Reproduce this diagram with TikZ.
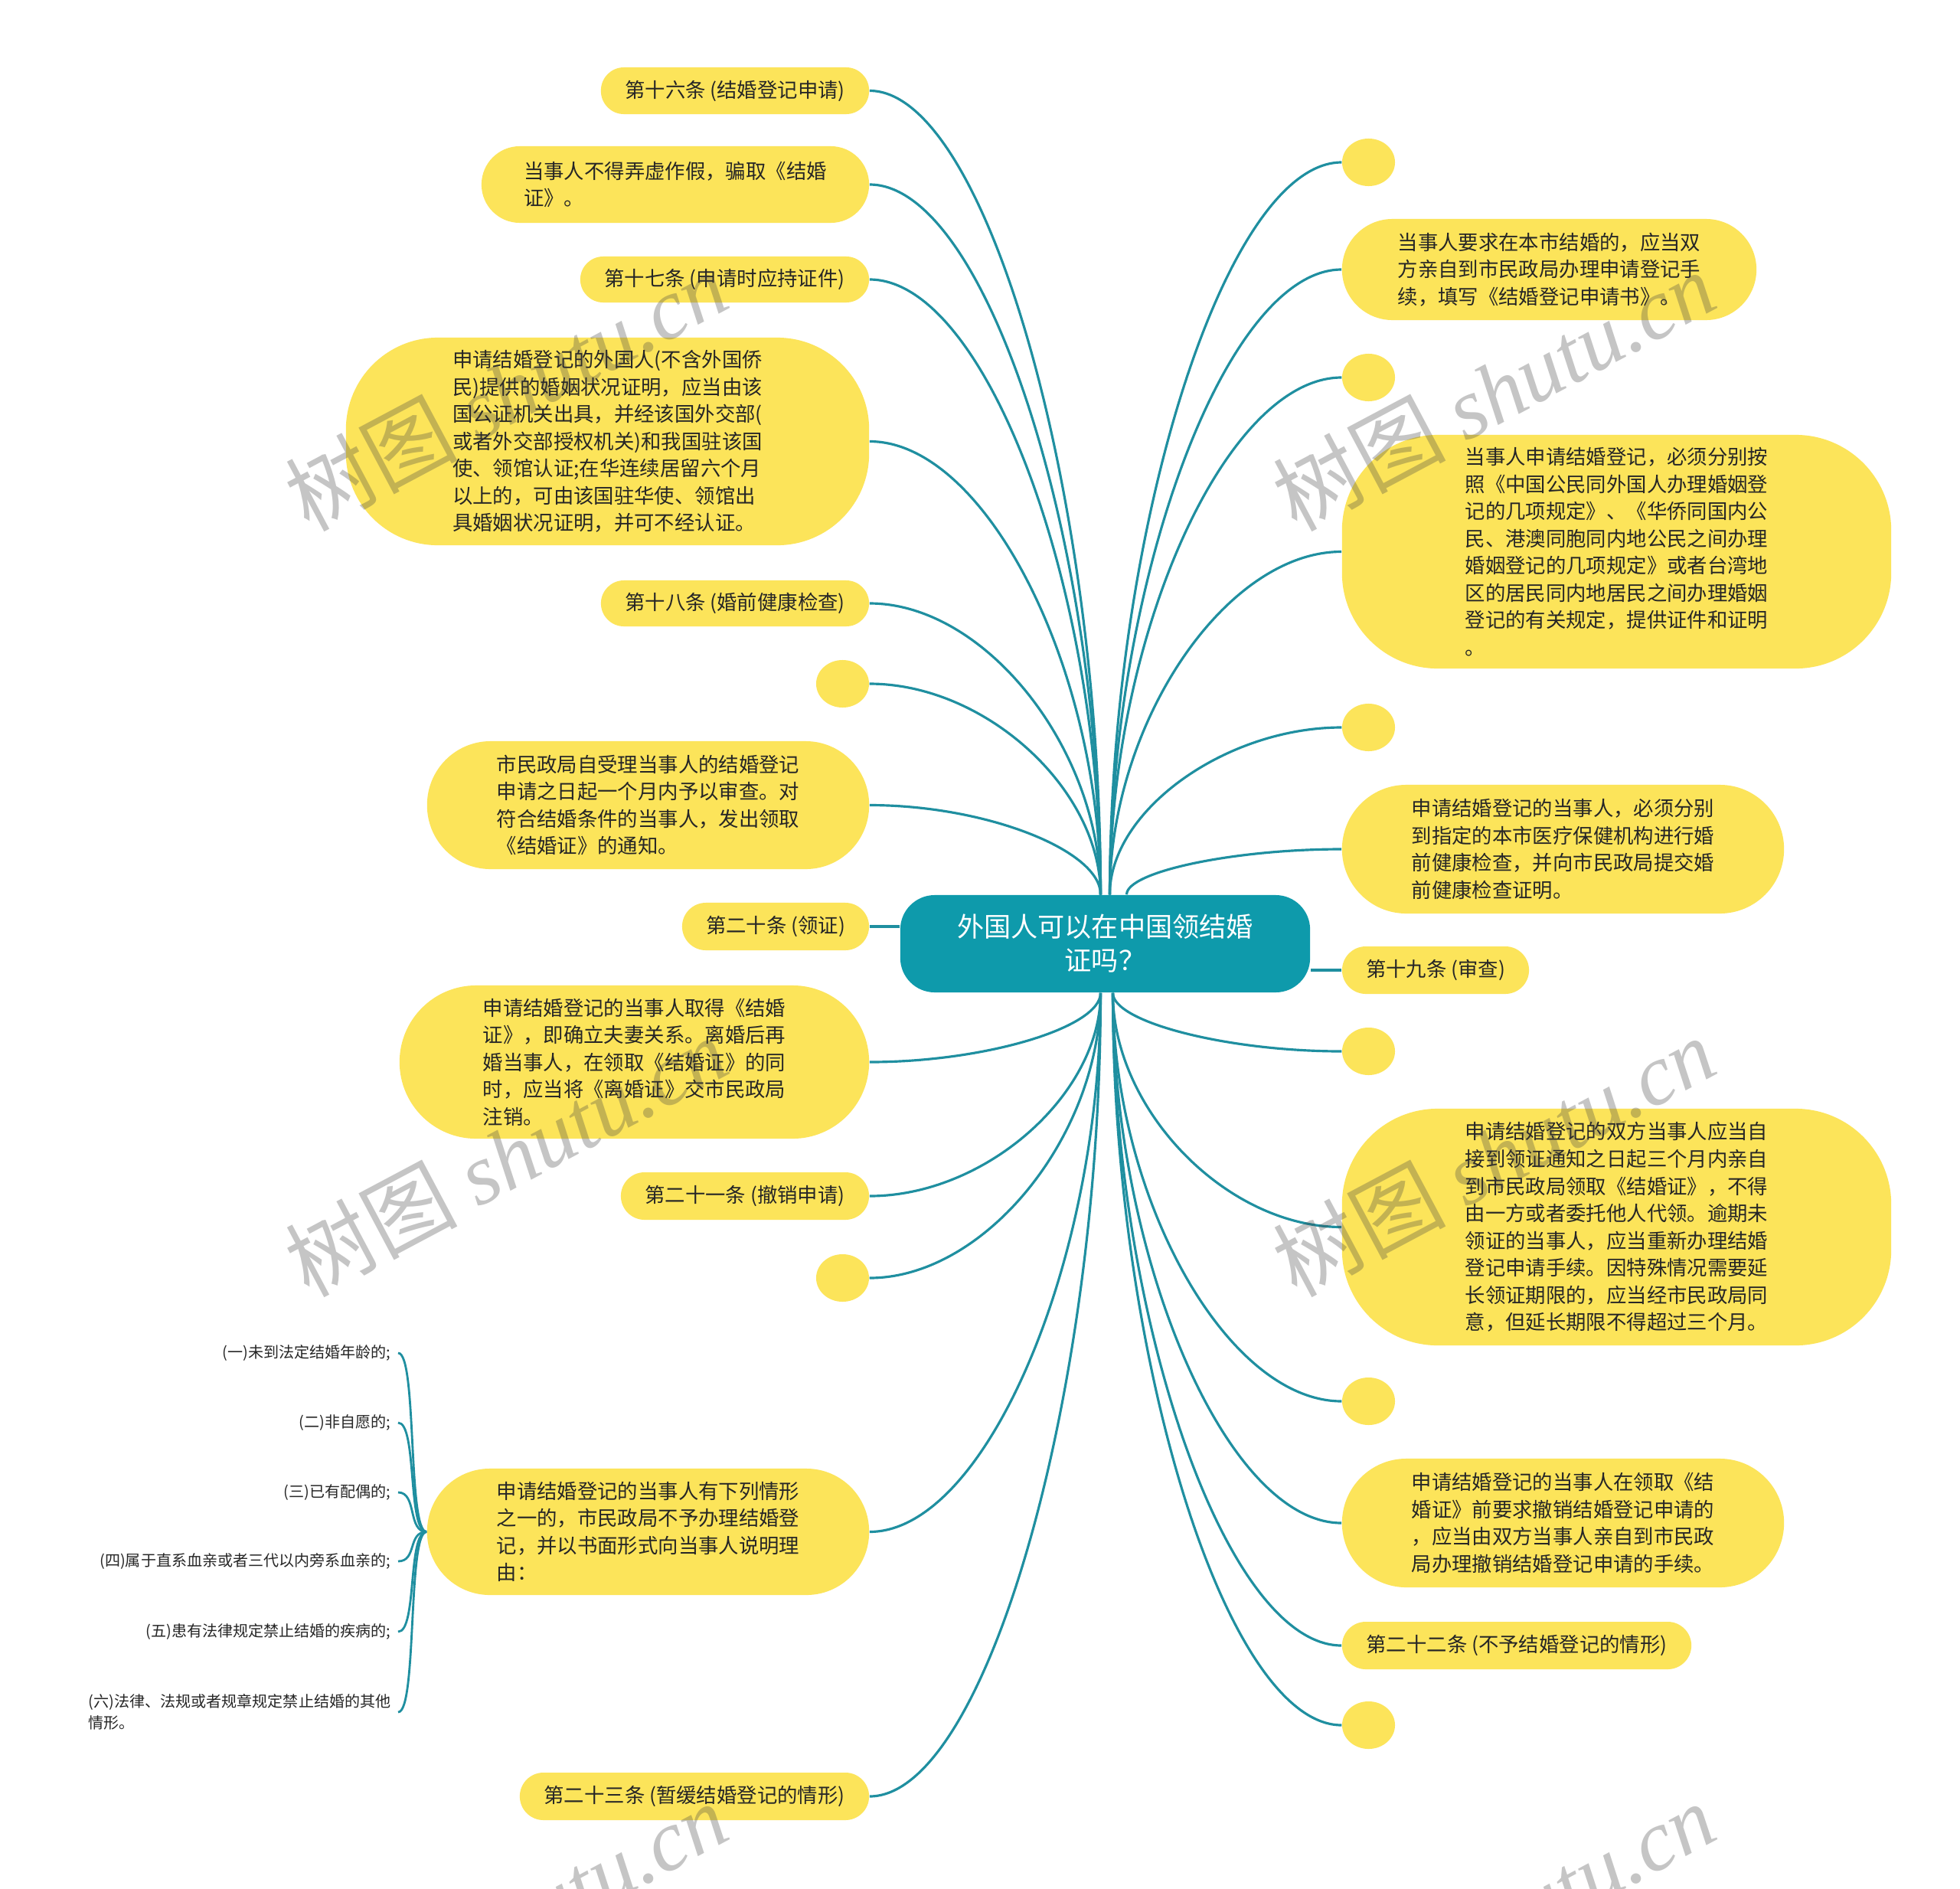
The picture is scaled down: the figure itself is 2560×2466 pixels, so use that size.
\documentclass[tikz,border=0pt]{standalone}
\usepackage{fontspec}
\newfontfamily\cjk{Noto Sans CJK SC}
\newfontfamily\wmlatin{Liberation Serif}
\usetikzlibrary{shapes.geometric,backgrounds,calc}
\definecolor{nodeyellow}{HTML}{FCE45A}
\definecolor{linkteal}{HTML}{1F8FA0}
\definecolor{rootteal}{HTML}{0E9AAB}
\definecolor{textdark}{HTML}{262626}
\newcommand\myleaffont{\cjk\fontsize{7.5pt}{10.1pt}\selectfont}
\newcommand\myrootfont{\cjk\fontsize{10pt}{12.5pt}\selectfont}
\newcommand\mysubfont{\cjk\fontsize{5.7pt}{7.9pt}\selectfont}
\newcommand\mywmfont{\fontsize{32pt}{36pt}\selectfont}
\tikzset{
  leaf/.style={fill=nodeyellow, text=textdark, font=\myleaffont, align=left, inner sep=0pt},
  blob/.style={fill=nodeyellow, ellipse, minimum width=0.69cm, minimum height=0.62cm, inner sep=0pt},
  rootbox/.style={fill=rootteal, text=white, font=\myrootfont, align=center, inner sep=0pt,
    minimum width=5.35cm, minimum height=1.27cm, rounded corners=0.45cm},
  conn/.style={draw=linkteal, line width=0.9pt},
  subconn/.style={draw=linkteal, line width=0.8pt},
  subitem/.style={text=textdark, font=\mysubfont, align=left, inner sep=0pt, inner xsep=0.09cm, anchor=east},
  wmark/.style={text=gray!50!black, opacity=0.3, font=\mywmfont, rotate=28, inner sep=0pt}
}
\begin{document}
\begin{tikzpicture}[x=0.01cm,y=-0.01cm]
\useasboundingbox (0,0) rectangle (2560,2466);

% root
\node[rootbox] (c) at (1443.5,1232.5) {外国人可以在中国领结婚\\证吗？};

% left children
\node[leaf, minimum width=3.50cm, minimum height=0.61cm, rounded corners=0.30cm] (L1) at (960,118.5) {第十六条 (结婚登记申请)};
\node[leaf, minimum width=5.06cm, minimum height=1.00cm, rounded corners=0.50cm] (L2) at (882,241) {当事人不得弄虚作假，骗取《结婚\\证》。};
\node[leaf, minimum width=3.77cm, minimum height=0.60cm, rounded corners=0.30cm] (L3) at (946.5,365) {第十七条 (申请时应持证件)};
\node[leaf, minimum width=6.83cm, minimum height=2.71cm, rounded corners=1.20cm] (L4) at (793.5,576.5) {申请结婚登记的外国人(不含外国侨\\民)提供的婚姻状况证明，应当由该\\国公证机关出具，并经该国外交部(\\或者外交部授权机关)和我国驻该国\\使、领馆认证;在华连续居留六个月\\以上的，可由该国驻华使、领馆出\\具婚姻状况证明，并可不经认证。};
\node[leaf, minimum width=3.50cm, minimum height=0.60cm, rounded corners=0.30cm] (L5) at (960,788) {第十八条 (婚前健康检查)};
\node[blob] (L6) at (1100.5,893) {};
\node[leaf, minimum width=5.77cm, minimum height=1.67cm, rounded corners=0.83cm] (L7) at (846.5,1051.5) {市民政局自受理当事人的结婚登记\\申请之日起一个月内予以审查。对\\符合结婚条件的当事人，发出领取\\《结婚证》的通知。};
\node[leaf, minimum width=2.44cm, minimum height=0.62cm, rounded corners=0.31cm] (L8) at (1013,1210) {第二十条 (领证)};
\node[leaf, minimum width=6.13cm, minimum height=2.00cm, rounded corners=1.00cm] (L9) at (828.5,1387) {申请结婚登记的当事人取得《结婚\\证》，即确立夫妻关系。离婚后再\\婚当事人，在领取《结婚证》的同\\时，应当将《离婚证》交市民政局\\注销。};
\node[leaf, minimum width=3.24cm, minimum height=0.62cm, rounded corners=0.31cm] (L10) at (973,1562) {第二十一条 (撤销申请)};
\node[blob] (L11) at (1100.5,1669) {};
\node[leaf, minimum width=5.77cm, minimum height=1.65cm, rounded corners=0.82cm] (L12) at (846.5,2000.5) {申请结婚登记的当事人有下列情形\\之一的，市民政局不予办理结婚登\\记，并以书面形式向当事人说明理\\由：};
\node[leaf, minimum width=4.56cm, minimum height=0.62cm, rounded corners=0.31cm] (L13) at (907,2346) {第二十三条 (暂缓结婚登记的情形)};

% right children
\node[blob] (R1) at (1787.5,212) {};
\node[leaf, minimum width=5.41cm, minimum height=1.32cm, rounded corners=0.66cm] (R2) at (2023.5,352) {当事人要求在本市结婚的，应当双\\方亲自到市民政局办理申请登记手\\续，填写《结婚登记申请书》。};
\node[blob] (R3) at (1787.5,493) {};
\node[leaf, minimum width=7.17cm, minimum height=3.05cm, rounded corners=1.25cm] (R4) at (2111.5,720.5) {当事人申请结婚登记，必须分别按\\照《中国公民同外国人办理婚姻登\\记的几项规定》、《华侨同国内公\\民、港澳同胞同内地公民之间办理\\婚姻登记的几项规定》或者台湾地\\区的居民同内地居民之间办理婚姻\\登记的有关规定，提供证件和证明\\。};
\node[blob] (R5) at (1787.5,950) {};
\node[leaf, minimum width=5.77cm, minimum height=1.68cm, rounded corners=0.84cm] (R6) at (2041.5,1109) {申请结婚登记的当事人，必须分别\\到指定的本市医疗保健机构进行婚\\前健康检查，并向市民政局提交婚\\前健康检查证明。};
\node[leaf, minimum width=2.44cm, minimum height=0.62cm, rounded corners=0.31cm] (R7) at (1875,1267) {第十九条 (审查)};
\node[blob] (R8) at (1787.5,1373) {};
\node[leaf, minimum width=7.17cm, minimum height=3.09cm, rounded corners=1.25cm] (R9) at (2111.5,1602.5) {申请结婚登记的双方当事人应当自\\接到领证通知之日起三个月内亲自\\到市民政局领取《结婚证》，不得\\由一方或者委托他人代领。逾期未\\领证的当事人，应当重新办理结婚\\登记申请手续。因特殊情况需要延\\长领证期限的，应当经市民政局同\\意，但延长期限不得超过三个月。};
\node[blob] (R10) at (1787.5,1830) {};
\node[leaf, minimum width=5.77cm, minimum height=1.68cm, rounded corners=0.84cm] (R11) at (2041.5,1989) {申请结婚登记的当事人在领取《结\\婚证》前要求撤销结婚登记申请的\\，应当由双方当事人亲自到市民政\\局办理撤销结婚登记申请的手续。};
\node[leaf, minimum width=4.56cm, minimum height=0.62cm, rounded corners=0.31cm] (R12) at (1981,2149) {第二十二条 (不予结婚登记的情形)};
\node[blob] (R13) at (1787.5,2253) {};

% sub items of L12
\node[subitem] (S1) at (520,1767) {(一)未到法定结婚年龄的;};
\node[subitem] (S2) at (520,1858) {(二)非自愿的;};
\node[subitem] (S3) at (520,1949) {(三)已有配偶的;};
\node[subitem] (S4) at (520,2039) {(四)属于直系血亲或者三代以内旁系血亲的;};
\node[subitem] (S5) at (520,2131) {(五)患有法律规定禁止结婚的疾病的;};
\node[subitem] (S6) at (520,2236) {(六)法律、法规或者规章规定禁止结婚的其他\\情形。};

\begin{pgfonlayer}{background}
\fill[white] (0,0) rectangle (2560,2466);
% left above
\draw[conn] (L1.east) .. controls +(151,0) and +(0,-525) .. ([xshift=-0.06cm]c.north);
\draw[conn] (L2.east) .. controls +(151,0) and +(0,-464) .. ([xshift=-0.06cm]c.north);
\draw[conn] (L3.east) .. controls +(151,0) and +(0,-402) .. ([xshift=-0.06cm]c.north);
\draw[conn] (L4.east) .. controls +(151,0) and +(0,-296) .. ([xshift=-0.06cm]c.north);
\draw[conn] (L5.east) .. controls +(151,0) and +(0,-190) .. ([xshift=-0.06cm]c.north);
\draw[conn] (L6.east) .. controls +(151,0) and +(0,-138) .. ([xshift=-0.06cm]c.north);
\draw[conn] (L7.east) .. controls +(151,0) and +(0,-58) .. ([xshift=-0.06cm]c.north);
% left middle
\draw[conn] (L8.east) -- (L8.east -| c.west);
% left below
\draw[conn] ([xshift=-0.06cm]c.south) .. controls +(0,45) and +(151,0) .. (L9.east);
\draw[conn] ([xshift=-0.06cm]c.south) .. controls +(0,133) and +(151,0) .. (L10.east);
\draw[conn] ([xshift=-0.06cm]c.south) .. controls +(0,186) and +(151,0) .. (L11.east);
\draw[conn] ([xshift=-0.06cm]c.south) .. controls +(0,352) and +(151,0) .. (L12.east);
\draw[conn] ([xshift=-0.06cm]c.south) .. controls +(0,525) and +(151,0) .. (L13.east);
% right above
\draw[conn] ([xshift=0.06cm]c.north) .. controls +(0,-478) and +(-151,0) .. (R1.west);
\draw[conn] ([xshift=0.06cm]c.north) .. controls +(0,-408) and +(-151,0) .. (R2.west);
\draw[conn] ([xshift=0.06cm]c.north) .. controls +(0,-338) and +(-151,0) .. (R3.west);
\draw[conn] ([xshift=0.06cm]c.north) .. controls +(0,-224) and +(-151,0) .. (R4.west);
\draw[conn] ([xshift=0.06cm]c.north) .. controls +(0,-110) and +(-151,0) .. (R5.west);
\draw[conn] ([xshift=0.28cm]c.north) .. controls +(0,-30) and +(-140,0) .. (R6.west);
% right middle
\draw[conn] (R7.west) -- (R7.west -| c.east);
% right below
\draw[conn] ([xshift=0.1cm]c.south) .. controls +(0,38) and +(-150,0) .. (R8.west);
\draw[conn] ([xshift=0.1cm]c.south) .. controls +(0,153) and +(-150,0) .. (R9.west);
\draw[conn] ([xshift=0.1cm]c.south) .. controls +(0,267) and +(-150,0) .. (R10.west);
\draw[conn] ([xshift=0.1cm]c.south) .. controls +(0,346) and +(-150,0) .. (R11.west);
\draw[conn] ([xshift=0.1cm]c.south) .. controls +(0,426) and +(-150,0) .. (R12.west);
\draw[conn] ([xshift=0.1cm]c.south) .. controls +(0,478) and +(-150,0) .. (R13.west);
% sub items
\draw[subconn] (L12.west) .. controls +(-25,0) and +(25,0) .. (S1.east);
\draw[subconn] (L12.west) .. controls +(-25,0) and +(25,0) .. (S2.east);
\draw[subconn] (L12.west) .. controls +(-25,0) and +(25,0) .. (S3.east);
\draw[subconn] (L12.west) .. controls +(-25,0) and +(25,0) .. (S4.east);
\draw[subconn] (L12.west) .. controls +(-25,0) and +(25,0) .. (S5.east);
\draw[subconn] (L12.west) .. controls +(-25,0) and +(25,0) .. (S6.east);
\end{pgfonlayer}

% watermarks
\begin{scope}
\clip (0,0) rectangle (2560,2466);
\node[wmark] (W1) at (661,510) {\cjk 树图 \wmlatin\itshape shutu.cn};
\node[wmark] (W2) at (1951,510) {\cjk 树图 \wmlatin\itshape shutu.cn};
\node[wmark] (W3) at (661,1510) {\cjk 树图 \wmlatin\itshape shutu.cn};
\node[wmark] (W4) at (1951,1510) {\cjk 树图 \wmlatin\itshape shutu.cn};
\node[wmark] (W5) at (661,2510) {\cjk 树图 \wmlatin\itshape shutu.cn};
\node[wmark] (W6) at (1951,2510) {\cjk 树图 \wmlatin\itshape shutu.cn};
\end{scope}
\end{tikzpicture}
\end{document}
